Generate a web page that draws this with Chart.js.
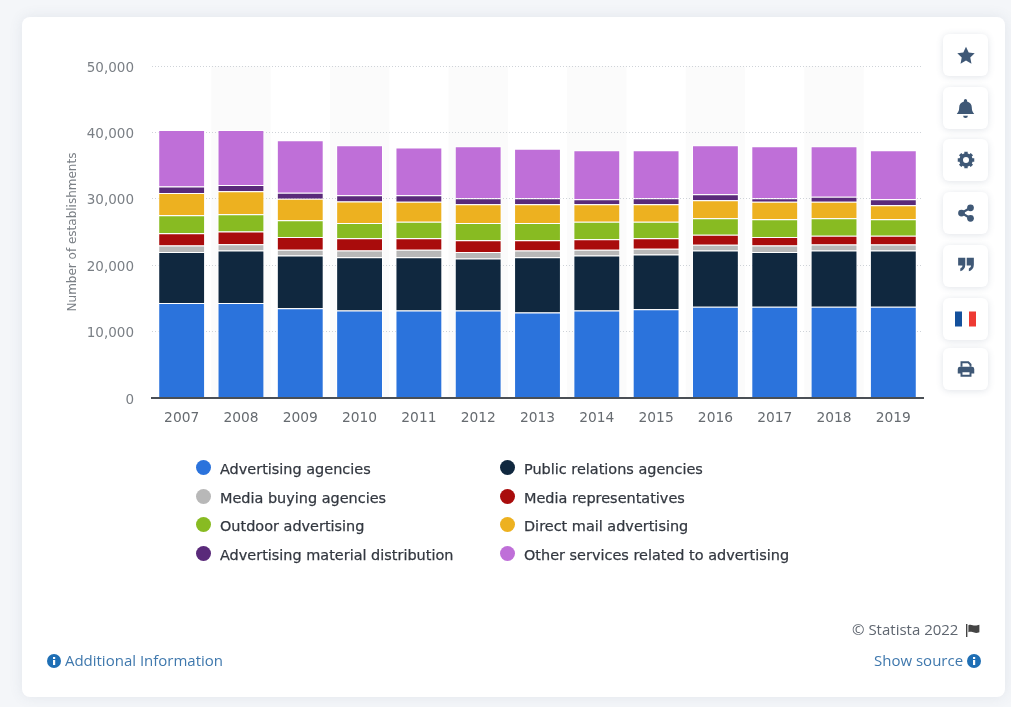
<!DOCTYPE html>
<html lang="en">
  <head>
    <meta charset="utf-8" />
    <title>Advertising establishments</title>
    <script src="https://cdn.jsdelivr.net/npm/chart.js"></script>
    <style>
      html, body { margin: 0; padding: 0; width: 1011px; height: 707px; overflow: hidden; background: #f4f6f9; }
      #card { position: absolute; left: 22px; top: 17px; width: 983px; height: 680px; background: #fff; border-radius: 8px; box-shadow: 0 0 14px rgba(70, 90, 120, 0.10); }
      #chartBox { position: absolute; left: 0; top: 0; width: 1011px; height: 707px; }
      .legend-item { position: absolute; font: 14.45px "DejaVu Sans", sans-serif; color: #333840; white-space: nowrap; line-height: 20px; -webkit-text-stroke: 0.25px #333840; }
      .legend-item i { position: absolute; left: -24px; top: 1px; width: 15px; height: 15px; border-radius: 50%; }
      .btn { position: absolute; left: 943px; width: 45px; height: 42px; background: #fff; border-radius: 6px; box-shadow: 0 1px 7px rgba(70, 90, 120, 0.16); display: flex; align-items: center; justify-content: center; }
      .foot { position: absolute; font: 15px "Open Sans", sans-serif; white-space: nowrap; line-height: 20px; }
      .link { color: #3f78ad; }
      .foot svg { vertical-align: -2px; }
    </style>
  </head>
  <body>
    <div id="card"></div>
    <div id="chartBox"><canvas id="estChart" width="1011" height="707"></canvas></div>
    <div id="legend"></div>

    <div class="btn" style="top:34px"><svg width="20" height="19" viewBox="0 0 24 24"><path fill="#3f5876" d="M12 1l3.400 7.200 7.600 1-5.600 5.300 1.500 7.800L12 18.400l-6.900 3.900 1.500-7.800L1 9.200l7.600-1z"/></svg></div>
    <div class="btn" style="top:87px"><svg width="19" height="21" viewBox="0 0 24 26"><path fill="#3f5876" d="M12 1a2 2 0 0 1 2 2v1c4 1 6 4 6 8 0 5 2 6 3 8H1c1-2 3-3 3-8 0-4 2-7 6-8V3a2 2 0 0 1 2-2zM9 22h6a3 3 0 0 1-6 0z"/></svg></div>
    <div class="btn" style="top:139px"><svg width="18" height="18" viewBox="0 0 24 24"><circle cx="12" cy="12" r="6.500" fill="none" stroke="#3f5876" stroke-width="5"/><path stroke="#3f5876" stroke-width="4.500" d="M12 1v5M12 18v5M1 12h5M18 12h5M4.200 4.200l3.600 3.600M16.200 16.200l3.600 3.600M4.200 19.800l3.600-3.600M16.200 7.800l3.600-3.600"/></svg></div>
    <div class="btn" style="top:192px"><svg width="18" height="18" viewBox="0 0 24 24"><path fill="none" stroke="#3f5876" stroke-width="3" d="M18 5L6 12l12 7"/><circle cx="18" cy="5" r="4.500" fill="#3f5876"/><circle cx="6" cy="12" r="4.500" fill="#3f5876"/><circle cx="18" cy="19" r="4.500" fill="#3f5876"/></svg></div>
    <div class="btn" style="top:245px"><svg width="18" height="15" viewBox="0 0 24 21" style="margin-top:-3px"><path fill="#3f5876" d="M1 1h10v10c0 5-3 8-7 9v-4c2-1 3-2 3-4H1zM13 1h10v10c0 5-3 8-7 9v-4c2-1 3-2 3-4h-6z"/></svg></div>
    <div class="btn" style="top:298px"><svg width="21" height="16" viewBox="0 0 21 15"><rect width="7" height="15" fill="#14509c"/><rect x="7" width="7" height="15" fill="#fff"/><rect x="14" width="7" height="15" fill="#ee3a33"/></svg></div>
    <div class="btn" style="top:348px"><svg width="18" height="18" viewBox="0 0 24 24"><path fill="#3f5876" d="M4 9h16a3 3 0 0 1 3 3v6h-5v-3H6v3H1v-6a3 3 0 0 1 3-3z"/><path fill="none" stroke="#3f5876" stroke-width="2.600" d="M6 9V3h9l3 3v3M6 15h12v6H6z"/></svg></div>

    <div class="foot" style="left:852px; top:619px; color:#5f6670; font-size:15px">© Statista 2022 <svg width="15" height="13" viewBox="0 0 15 13" style="margin-left:3px"><path fill="#444" d="M1 0h1.400v13H1zM3.400 1.200c3-1.400 5 1 8 .2l3-.6v7.400c-3 1.200-5 .6-7-.1-1.400-.4-2.700-.4-4 .1z"/></svg></div>
    <div class="foot link" style="left:47px; top:650px"><svg width="14" height="14" viewBox="0 0 14 14"><circle cx="7" cy="7" r="7" fill="#1f6fb5"/><rect x="6" y="6" width="2.200" height="5" fill="#fff"/><rect x="6" y="3" width="2.200" height="2" fill="#fff"/></svg> Additional Information</div>
    <div class="foot link" style="left:874px; top:650px">Show source <svg width="14" height="14" viewBox="0 0 14 14"><circle cx="7" cy="7" r="7" fill="#1f6fb5"/><rect x="6" y="6" width="2.200" height="5" fill="#fff"/><rect x="6" y="3" width="2.200" height="2" fill="#fff"/></svg></div>

    <script>
      const years = ["2007", "2008", "2009", "2010", "2011", "2012", "2013", "2014", "2015", "2016", "2017", "2018", "2019"];

      // bottom of the stack first
      const advertisingAgencies = [14300, 14300, 13530, 13180, 13180, 13180, 12880, 13180, 13380, 13740, 13740, 13740, 13740];
      const publicRelations = [7670, 7930, 7930, 8030, 8030, 7830, 8330, 8280, 8230, 8480, 8230, 8480, 8480];
      const mediaBuying = [1010, 910, 860, 1010, 1110, 960, 1010, 860, 860, 860, 1010, 910, 910];
      const mediaReps = [1820, 1920, 1920, 1820, 1720, 1770, 1520, 1570, 1570, 1510, 1260, 1310, 1310];
      const outdoor = [2720, 2620, 2530, 2320, 2520, 2620, 2620, 2670, 2520, 2480, 2680, 2630, 2480];
      const directMail = [3340, 3440, 3230, 3230, 2980, 2830, 2830, 2630, 2630, 2730, 2620, 2470, 2120];
      const materialDistribution = [1010, 960, 900, 960, 1010, 910, 910, 760, 910, 900, 560, 760, 910];
      const otherServices = [8480, 8280, 7930, 7530, 7170, 7830, 7420, 7370, 7220, 7380, 7830, 7630, 7370];

      const yTicks = [0, 10000, 20000, 30000, 40000, 50000];

      const seriesNames = ["Advertising agencies", "Public relations agencies", "Media buying agencies", "Media representatives", "Outdoor advertising", "Direct mail advertising", "Advertising material distribution", "Other services related to advertising"];
      const seriesColors = ["#2b73dc", "#10283f", "#b8b8b8", "#a90c0c", "#88bb22", "#edb120", "#5a2a7a", "#bf6fd8"];
      const seriesValues = [advertisingAgencies, publicRelations, mediaBuying, mediaReps, outdoor, directMail, materialDistribution, otherServices];

      // legend is two columns, filled row by row
      const legend = document.getElementById("legend");
      seriesNames.forEach(function (name, i) {
        const item = document.createElement("div");
        item.className = "legend-item";
        item.style.left = (i % 2 == 0 ? 220 : 524) + "px";
        item.style.top = 459 + 28.6 * Math.floor(i / 2) + "px";
        item.innerHTML = '<i style="background:' + seriesColors[i] + '"></i>' + name;
        legend.appendChild(item);
      });

      // faint stripes behind every other year, under the grid lines
      const stripes = {
        id: "stripes",
        beforeDraw(chart) {
          const { ctx, chartArea, scales } = chart;
          const w = scales.x.width / years.length;
          ctx.save();
          ctx.fillStyle = "#fbfbfb";
          years.forEach(function (y, i) {
            if (i % 2 == 1) {
              ctx.fillRect(scales.x.getPixelForValue(i) - w / 2, chartArea.top, w, chartArea.height);
            }
          });
          ctx.restore();
        },
      };

      const ctx = document.getElementById("estChart").getContext("2d");
      const chart = new Chart(ctx, {
        type: "bar",
        data: {
          labels: years,
          datasets: seriesNames.map(function (name, i) {
            return {
              label: name,
              data: seriesValues[i],
              backgroundColor: seriesColors[i],
              borderColor: "#ffffff",
              borderWidth: 1,
              barPercentage: 0.79,
              categoryPercentage: 1,
            };
          }),
        },
        options: {
          responsive: false,
          animation: { duration: 0 },
          layout: { padding: { left: 66, top: 66, right: 88, bottom: 0 } },
          plugins: { legend: { display: false }, tooltip: { enabled: false } },
          scales: {
            x: {
              stacked: true,
              afterFit: function (s) { s.height = 309; },
              grid: { display: false, drawTicks: false },
              border: { color: "#4a4f55", width: 2, z: 2 },
              ticks: { color: "#666b70", font: { family: "DejaVu Sans", size: 13.8 }, padding: 12, maxRotation: 0 },
            },
            y: {
              stacked: true,
              min: 0,
              max: 50000,
              afterFit: function (s) { s.width = 86; },
              afterBuildTicks: function (s) { s.ticks = yTicks.map(function (v) { return { value: v }; }); },
              border: { display: false, dash: [1, 2] },
              grid: { color: "#cfd3d8", lineWidth: 1, drawTicks: false },
              title: { display: true, text: "Number of establishments", color: "#7a7f85", font: { family: "DejaVu Sans", size: 12 }, padding: { top: 0, bottom: 0 } },
              ticks: { color: "#7a7f85", font: { family: "DejaVu Sans", size: 13.5 }, padding: 18, labelOffset: 2, callback: function (v) { return v.toLocaleString("en-US"); } },
            },
          },
        },
        plugins: [stripes],
      });
    </script>
  </body>
</html>
